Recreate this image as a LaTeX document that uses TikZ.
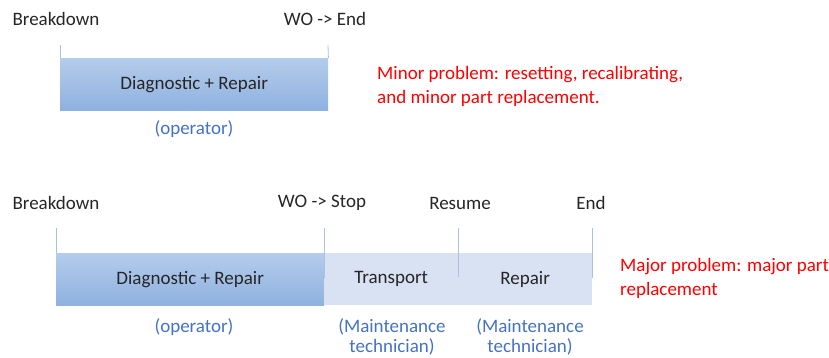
\documentclass[tikz,border=0pt]{standalone}
\usepackage{fontspec}
\setmainfont{Carlito}
\definecolor{darkbar}{HTML}{8EB1E0}
\definecolor{topbar}{HTML}{B5CCEB}
\definecolor{lightbar}{HTML}{D9E2F3}
\definecolor{vline}{HTML}{A9C1E5}
\definecolor{bluetxt}{HTML}{4472C4}
\definecolor{redtxt}{HTML}{FF0000}
\begin{document}
\begin{tikzpicture}[x=1pt,y=-1pt,
  lbl/.style={font=\fontsize{19}{22}\selectfont, inner sep=0pt, text=black!85},
  who/.style={font=\fontsize{19}{22}\selectfont, inner sep=0pt, text=bluetxt, align=center},
  note/.style={font=\fontsize{19}{24}\selectfont, inner sep=0pt, text=redtxt, align=left, anchor=north west},
  darkbox/.style={anchor=north west, inner sep=0pt, top color=topbar, bottom color=darkbar, draw=none,
    minimum height=52, font=\fontsize{19}{22}\selectfont, text=black!85},
  lightbox/.style={anchor=north west, inner sep=0pt, fill=lightbar, draw=none,
    minimum height=52, font=\fontsize{19}{22}\selectfont, text=black!85},
  tick/.style={draw=vline, line width=0.8pt}]
\useasboundingbox (0,0) rectangle (829,357);
% ---- top timeline ----
\node[lbl] (bd1) at (56,19) {Breakdown};
\node[lbl] (woe) at (325,19) {WO -> End};
\node[darkbox, minimum width=268] (dr1) at (60,58) {Diagnostic + Repair};
\coordinate (t1a) at (60,45);
\coordinate (t1b) at (328,45);
\draw[tick] (t1a) -- (dr1.north west);
\draw[tick] (t1b) -- (dr1.north east);
\node[who] (op1) at (194,129) {(operator)};
\node[note] (minor) at (377,66) {Minor problem: resetting, recalibrating,\\and minor part replacement.};
% ---- bottom timeline ----
\node[lbl] (bd2) at (56,203) {Breakdown};
\node[lbl] (wos) at (322,203) {WO -> Stop};
\node[lbl] (res) at (460,203) {Resume};
\node[lbl] (end) at (591,203) {End};
\node[darkbox, minimum width=268] (dr2) at (56,253) {Diagnostic + Repair};
\node[lightbox, minimum width=134] (tr) at (324,253) {Transport};
\node[lightbox, minimum width=134] (rp) at (458,253) {Repair};
\coordinate (b1) at (56,228);
\coordinate (b2) at (324,228);
\coordinate (b3) at (458,228);
\coordinate (b4) at (592,228);
\coordinate (b2e) at (324,278);
\coordinate (b3e) at (458,277);
\coordinate (b4e) at (592,278);
\draw[tick] (b1) -- (dr2.north west);
\draw[tick] (b2) -- (b2e);
\draw[tick] (b3) -- (b3e);
\draw[tick] (b4) -- (b4e);
\node[who] (op2) at (194,327) {(operator)};
\node[who] (mt1) at (392,337) {(Maintenance\\[-2pt]technician)};
\node[who] (mt2) at (530,337) {(Maintenance\\[-2pt]technician)};
\node[note] (major) at (620,258) {Major problem: major part\\replacement};
\end{tikzpicture}
\end{document}
